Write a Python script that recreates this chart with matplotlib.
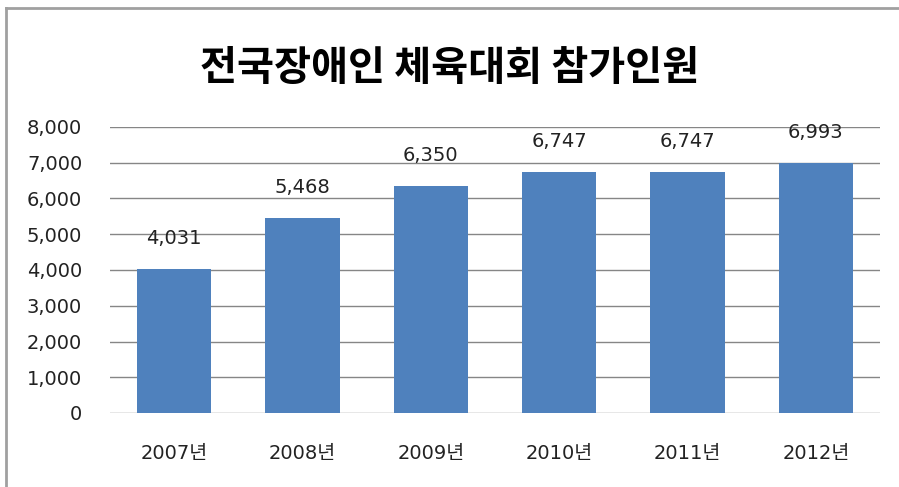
import matplotlib.pyplot as plt
from matplotlib.lines import Line2D
from matplotlib.ticker import FuncFormatter

plt.rcParams["font.family"] = ["DejaVu Sans", "Noto Sans CJK KR"]

title = "전국장애인 체육대회 참가인원"
years = ["2007년", "2008년", "2009년", "2010년", "2011년", "2012년"]
participants = [4031, 5468, 6350, 6747, 6747, 6993]

W, H = 899, 487
fig = plt.figure(figsize=(W / 100, H / 100), dpi=100)
ax = fig.add_axes([110 / W, 1 - 413 / H, 770 / W, 286 / H])

x = range(len(years))
bars = ax.bar(x, participants, width=0.58, color="#4F81BD", zorder=3)
for rect, val in zip(bars, participants):
    ax.annotate(f"{val:,}", (rect.get_x() + rect.get_width() / 2, val),
                xytext=(0, 15), textcoords="offset points",
                ha="center", va="bottom", fontsize=14, color="#222222")

ax.set_xlim(-0.5, len(years) - 0.5)
ax.set_ylim(0, 8000)
ax.set_yticks(range(0, 8001, 1000))
ax.yaxis.set_major_formatter(FuncFormatter(lambda v, _: f"{int(v):,}"))
ax.set_xticks(list(x))
ax.set_xticklabels(years)
ax.tick_params(axis="both", length=0, labelsize=14, colors="#222222")
ax.tick_params(axis="x", pad=22)
ax.tick_params(axis="y", pad=20)
ax.grid(axis="y", color="#868686", linewidth=1, zorder=0)
for spine in ax.spines.values():
    spine.set_visible(False)

fig.text(0.5, 1 - 68 / H, title, ha="center", va="center",
         fontsize=29, fontweight="bold", color="#000000",
         family=["Noto Sans CJK KR"])

# outer chart frame: only top and left edges are visible in the crop
fig.add_artist(Line2D([6 / W, 1.0], [1 - 8 / H, 1 - 8 / H],
                      transform=fig.transFigure, color="#a0a0a0", linewidth=2))
fig.add_artist(Line2D([6 / W, 6 / W], [0.0, 1 - 8 / H],
                      transform=fig.transFigure, color="#a0a0a0", linewidth=2))

fig.savefig("out.png", dpi=100)
